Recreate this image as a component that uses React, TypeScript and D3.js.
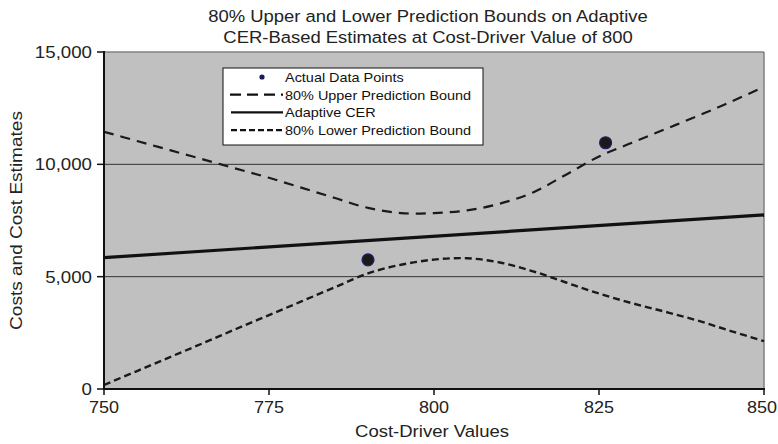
import React from "react";
import * as d3 from "d3";

const xValues = [750, 755, 760, 765, 770, 775, 780, 785, 790, 795, 800, 805, 810, 815, 820, 825, 830, 835, 840, 845, 850];
const upperBound = [11450, 11040, 10630, 10220, 9810, 9400, 8950, 8500, 8060, 7830, 7830, 7950, 8250, 8750, 9540, 10350, 10960, 11560, 12160, 12790, 13450];
const lowerBound = [180, 800, 1420, 2040, 2670, 3290, 3910, 4530, 5150, 5530, 5760, 5820, 5630, 5240, 4740, 4250, 3820, 3440, 3040, 2580, 2130];
const cerX = [750, 850];
const cerY = [5850, 7750];
const actualX = [790, 826];
const actualY = [5750, 10960];
const xTicks = [750, 775, 800, 825, 850];
const yTicks = [0, 5000, 10000, 15000];
const gridTicks = [5000, 10000];
const titleLines = ["80% Upper and Lower Prediction Bounds on Adaptive", "CER-Based Estimates at Cost-Driver Value of 800"];
const legendItems = ["Actual Data Points", "80% Upper Prediction Bound", "Adaptive CER", "80% Lower Prediction Bound"];

const W = 778;
const H = 444;
const L = 104, R = 764, T = 52, B = 389;
const FONT = "'Liberation Sans', Arial, sans-serif";

function SText(props: { x: number; y: number; sx: number; size: number; anchor?: string; rotate?: number; children: React.ReactNode; fill?: string }) {
  const { x, y, sx, size, anchor = "start", rotate = 0, children, fill = "#222" } = props;
  return (
    <text
      transform={`translate(${x},${y}) rotate(${rotate}) scale(${sx},1)`}
      textAnchor={anchor}
      fontSize={size}
      fill={fill}
    >
      {children}
    </text>
  );
}

export default function App() {
  const x = d3.scaleLinear().domain([750, 850]).range([L, R]);
  const y = d3.scaleLinear().domain([0, 15000]).range([B, T]);
  const line = d3
    .line<[number, number]>()
    .x((d) => x(d[0]))
    .y((d) => y(d[1]))
    .curve(d3.curveCatmullRom.alpha(0.5));
  const straight = d3
    .line<[number, number]>()
    .x((d) => x(d[0]))
    .y((d) => y(d[1]));
  const upperPts = xValues.map((v, i) => [v, upperBound[i]] as [number, number]);
  const lowerPts = xValues.map((v, i) => [v, lowerBound[i]] as [number, number]);
  const cerPts = cerX.map((v, i) => [v, cerY[i]] as [number, number]);
  const fmt = d3.format(",");

  const legX = 223, legY = 68, legW = 260, legH = 77;
  const rowY = (i: number) => 77 + i * 17.7;

  return (
    <svg width={W} height={H} style={{ position: "absolute", left: 0, top: 0, background: "#fff" }} fontFamily={FONT}>
      <rect x={0} y={0} width={W} height={H} fill="#fff" />
      {titleLines.map((t, i) => (
        <SText key={i} x={428} y={22 + i * 20.5} sx={1.085} size={17} anchor="middle">
          {t}
        </SText>
      ))}
      <rect x={L} y={T} width={R - L} height={B - T} fill="#c0c0c0" />
      {gridTicks.map((t) => (
        <line key={t} x1={L} x2={R} y1={y(t)} y2={y(t)} stroke="#333" strokeWidth={1} />
      ))}
      <line x1={L} x2={R} y1={T} y2={T} stroke="#808080" strokeWidth={1.5} />
      <line x1={R} x2={R} y1={T} y2={B} stroke="#808080" strokeWidth={1.5} />
      <clipPath id="plotclip">
        <rect x={L} y={T - 2} width={R - L + 2} height={B - T + 4} />
      </clipPath>
      <g clipPath="url(#plotclip)">
        <path d={line(upperPts) || ""} fill="none" stroke="#1a1a1a" strokeWidth={2.2} strokeDasharray="10,7" />
        <path d={line(lowerPts) || ""} fill="none" stroke="#1a1a1a" strokeWidth={2.4} strokeDasharray="7,4" />
        <path d={straight(cerPts) || ""} fill="none" stroke="#111" strokeWidth={3.2} />
      </g>
      {actualX.map((v, i) => (
        <circle key={i} cx={x(v)} cy={y(actualY[i])} r={6} fill="#1a1a1a" stroke="#1f1f70" strokeWidth={1.2} />
      ))}
      <line x1={L} x2={L} y1={T - 1} y2={B + 1} stroke="#111" strokeWidth={2} />
      <line x1={L - 1} x2={R + 1} y1={B} y2={B} stroke="#111" strokeWidth={2} />
      {yTicks.map((t) => (
        <g key={t}>
          <line x1={L - 7} x2={L} y1={y(t)} y2={y(t)} stroke="#111" strokeWidth={1.5} />
          <SText x={L - 12} y={y(t) + 6} sx={1.1} size={17} anchor="end">
            {fmt(t)}
          </SText>
        </g>
      ))}
      {xTicks.map((t) => (
        <g key={t}>
          <line x1={x(t)} x2={x(t)} y1={B} y2={B + 6} stroke="#111" strokeWidth={1.5} />
          <SText x={Math.min(x(t), W - 16)} y={B + 24} sx={1.06} size={17} anchor="middle">
            {t}
          </SText>
        </g>
      ))}
      <SText x={432} y={437} sx={1.09} size={17} anchor="middle">
        Cost-Driver Values
      </SText>
      <SText x={22} y={(T + B) / 2} rotate={-90} sx={1.12} size={17} anchor="middle">
        Costs and Cost Estimates
      </SText>
      <rect x={legX} y={legY} width={legW} height={legH} fill="#fff" stroke="#111" strokeWidth={1} />
      <circle cx={262} cy={rowY(0)} r={2.6} fill="#1a1a5a" />
      <line x1={230} x2={283} y1={rowY(1)} y2={rowY(1)} stroke="#111" strokeWidth={2.2} strokeDasharray="11,6" />
      <line x1={231} x2={283} y1={rowY(2)} y2={rowY(2)} stroke="#111" strokeWidth={2.4} />
      <line x1={231} x2={283} y1={rowY(3)} y2={rowY(3)} stroke="#111" strokeWidth={2.4} strokeDasharray="6,3" />
      {legendItems.map((t, i) => (
        <SText key={i} x={285} y={rowY(i) + 5} sx={1.07} size={13.5} fill="#111">
          {t}
        </SText>
      ))}
    </svg>
  );
}
